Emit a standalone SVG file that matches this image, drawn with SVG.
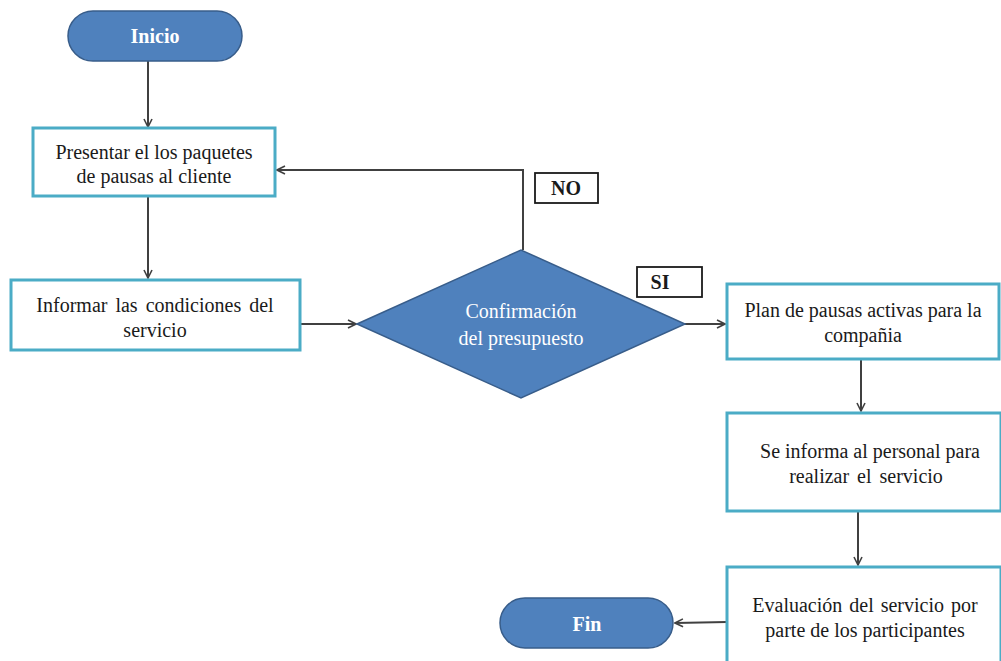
<svg xmlns="http://www.w3.org/2000/svg" width="1001" height="661" viewBox="0 0 1001 661">
<defs>
<marker id="arr" viewBox="0 0 10 10" refX="9" refY="5" markerWidth="10" markerHeight="10" markerUnits="userSpaceOnUse" orient="auto">
<path d="M1,1 L9,5 L1,9" fill="none" stroke="#404040" stroke-width="1.6"/>
</marker>
</defs>
<style>
.term{fill:#4F81BD;stroke:#385D8A;stroke-width:1.5}
.proc{fill:#FFFFFF;stroke:#4BACC6;stroke-width:3}
.lbl{fill:#FFFFFF;stroke:#1a1a1a;stroke-width:1.8}
.t{font-family:"Liberation Serif","Times New Roman",serif;font-size:20px;fill:#1a1a1a;text-anchor:middle}
.w{fill:#FFFFFF}
.b{font-weight:bold}
.c{fill:none;stroke:#404040;stroke-width:2;marker-end:url(#arr)}
.cn{fill:none;stroke:#404040;stroke-width:2}
</style>
<rect width="1001" height="661" fill="#FFFFFF"/>
<g id="connectors">
<line class="c" x1="148" y1="61" x2="148" y2="127"/>
<line class="c" x1="148" y1="196" x2="148" y2="278"/>
<line class="c" x1="300" y1="324" x2="356" y2="324"/>
<polyline class="c" points="523,250 523,170 277,170"/>
<line class="c" x1="685" y1="324" x2="725" y2="324"/>
<line class="c" x1="861" y1="359" x2="861" y2="411"/>
<line class="c" x1="858" y1="511" x2="858" y2="565"/>
<line class="c" x1="727" y1="622" x2="675" y2="623"/>
</g>
<g id="inicio">
<rect class="term" x="68" y="11" width="174" height="50" rx="25"/>
<text class="t w b" x="155" y="43">Inicio</text>
</g>
<g id="presentar">
<rect class="proc" x="33" y="128" width="242" height="68"/>
<text class="t" x="154" y="159">Presentar el los paquetes</text>
<text class="t" x="154" y="183">de pausas al cliente</text>
</g>
<g id="informar">
<rect class="proc" x="11" y="280" width="289" height="70"/>
<text class="t" x="155" y="312" word-spacing="3">Informar las condiciones del</text>
<text class="t" x="155" y="337">servicio</text>
</g>
<g id="confirmacion">
<polygon class="term" points="357,324 521,250 685,324 521,398"/>
<text class="t w" x="521" y="318">Confirmación</text>
<text class="t w" x="521" y="345">del presupuesto</text>
</g>
<g id="label-no">
<rect class="lbl" x="535" y="173" width="63" height="30"/>
<text class="t b" x="566" y="195">NO</text>
</g>
<g id="label-si">
<rect class="lbl" x="637" y="267" width="65" height="30"/>
<text class="t b" x="660" y="289">SI</text>
</g>
<g id="plan">
<rect class="proc" x="727" y="284" width="272" height="75"/>
<text class="t" x="863" y="317">Plan de pausas activas para la</text>
<text class="t" x="863" y="342">compañia</text>
</g>
<g id="informa">
<rect class="proc" x="727" y="413" width="274" height="98"/>
<text class="t" x="870" y="458">Se informa al personal para</text>
<text class="t" x="866" y="483" word-spacing="3">realizar el servicio</text>
</g>
<g id="evaluacion">
<rect class="proc" x="727" y="567" width="274" height="100"/>
<text class="t" x="865" y="612" word-spacing="2">Evaluación del servicio por</text>
<text class="t" x="865" y="637">parte de los participantes</text>
</g>
<g id="fin">
<rect class="term" x="500" y="598" width="173" height="50" rx="25"/>
<text class="t w b" x="587" y="631">Fin</text>
</g>
</svg>
